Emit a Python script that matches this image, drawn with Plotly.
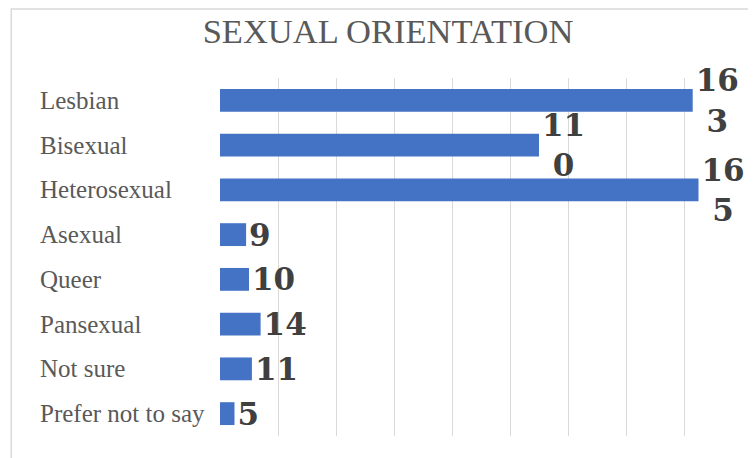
import plotly.graph_objects as go

categories = ["Lesbian", "Bisexual", "Heterosexual", "Asexual", "Queer",
              "Pansexual", "Not sure", "Prefer not to say"]
values = [163, 110, 165, 9, 10, 14, 11, 5]
grid_ticks = [20, 40, 60, 80, 100, 120, 140, 160, 180]
title_text = "SEXUAL ORIENTATION"


def wrap_label(v):
    s = str(v)
    return s[:2] + "<br>" + s[2:] if len(s) > 2 else s


labels = [wrap_label(v) for v in values]

OFF = 8  # page body margin in the browser
W, H = 756 - OFF, 458 - OFF
L, R, T, B = 219.7 - OFF, 741.7 - OFF, 77.6 - OFF, 436.0 - OFF

fig = go.Figure(go.Bar(
    x=values, y=categories, orientation="h",
    marker=dict(color="#4472C4", line=dict(width=0)),
    text=labels, textposition="outside", constraintext="none",
    cliponaxis=False,
    textfont=dict(family="DejaVu Serif", size=31, color="#404040", weight="bold"),
    hoverinfo="skip",
))

annotations = []
for c in categories:
    annotations.append(dict(
        x=(38 - OFF - L) / (R - L), xref="paper", y=c, yref="y",
        text=c, showarrow=False, xanchor="left", yanchor="middle",
        font=dict(family="Liberation Serif", size=25, color="#595959"),
    ))

fig.update_layout(
    width=W, height=H,
    margin=dict(l=L, r=W - R, t=T, b=H - B, pad=0),
    paper_bgcolor="white", plot_bgcolor="white",
    bargap=0.49,
    showlegend=False,
    title=dict(text=title_text, x=(388 - OFF) / W, xref="container", xanchor="center",
               y=1 - (30.5 - OFF) / H, yref="container", yanchor="middle",
               font=dict(family="Liberation Serif", size=34.5, color="#595959")),
    xaxis=dict(range=[0, 180], tickmode="array", tickvals=grid_ticks,
               showticklabels=False, showgrid=True, gridcolor="#d9d9d9",
               gridwidth=1, zeroline=False, showline=False, ticks=""),
    yaxis=dict(autorange="reversed", showticklabels=False, showgrid=False,
               zeroline=False, showline=False, ticks=""),
    annotations=annotations,
    shapes=[dict(type="rect", xref="paper", yref="paper",
                 x0=(11 - OFF - L) / (R - L), x1=(W + 20 - L) / (R - L),
                 y0=(B - (H + 20)) / (B - T), y1=(B - (8.5 - OFF)) / (B - T),
                 line=dict(color="#d9d9d9", width=1.5), fillcolor="rgba(0,0,0,0)",
                 layer="below")],
)

fig.write_html("out.html")
